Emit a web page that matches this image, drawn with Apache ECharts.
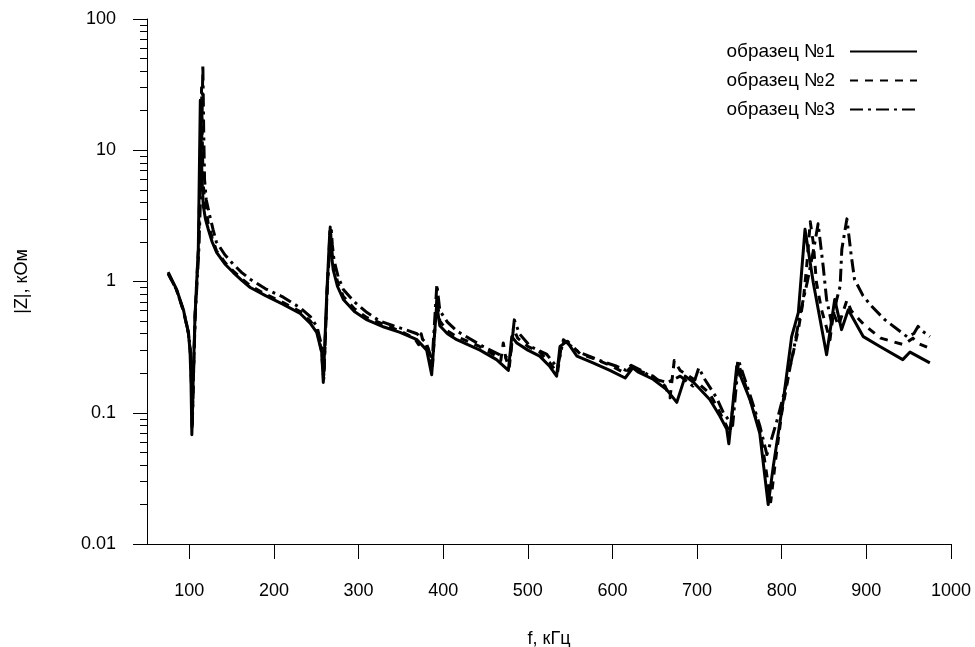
<!DOCTYPE html>
<html>
<head>
<meta charset="utf-8">
<script src="https://cdn.jsdelivr.net/npm/echarts@6/dist/echarts.min.js"></script>
<style>
  html, body { margin: 0; padding: 0; background: #fff; }
  #main { width: 975px; height: 647px; }
</style>
</head>
<body>
<div id="main"></div>
<script>
// frequency, kHz and |Z|, kOhm
var freq1 = [75, 85, 93, 98.8, 100.8, 102, 103, 104.5, 106.7, 110.6, 113, 114, 115, 116.5, 119, 122.4, 127, 132.4, 142, 152, 162, 172, 190, 211, 231, 243, 250.5, 256.4, 258.3, 262.3, 266, 268, 270, 275, 282, 295, 310, 330, 349, 369, 380.5, 386.4, 392.3, 396, 405, 416, 443.5, 463, 477, 481, 487, 500, 514, 526, 534, 538, 546, 558, 577, 597, 615, 624, 630, 648, 664, 676, 686, 696, 715, 727, 735, 737.5, 746.8, 762.5, 774, 784, 790, 802, 811.7, 819.6, 827.5, 837.3, 853, 862.6, 870.7, 878.6, 896.4, 916, 943, 951.6, 975];
var z1 = [1.18, 0.87, 0.61, 0.41, 0.30, 0.17, 0.068, 0.17, 0.54, 1.75, 24, 12, 6, 3.8, 3.0, 2.5, 2.0, 1.66, 1.36, 1.17, 1.02, 0.90, 0.78, 0.67, 0.57, 0.48, 0.41, 0.29, 0.17, 0.77, 2.4, 1.6, 1.23, 0.92, 0.73, 0.59, 0.51, 0.45, 0.41, 0.36, 0.30, 0.195, 0.67, 0.46, 0.40, 0.36, 0.30, 0.254, 0.21, 0.38, 0.34, 0.30, 0.27, 0.225, 0.19, 0.32, 0.35, 0.27, 0.24, 0.21, 0.184, 0.22, 0.205, 0.18, 0.15, 0.12, 0.19, 0.17, 0.126, 0.094, 0.075, 0.058, 0.225, 0.126, 0.07, 0.020, 0.039, 0.126, 0.38, 0.58, 2.5, 0.98, 0.277, 0.73, 0.43, 0.61, 0.38, 0.32, 0.254, 0.29, 0.24];

var freq2 = [75, 85, 93, 99, 101, 102.3, 103.3, 105, 107, 111, 114.5, 115.5, 116.5, 118, 122.4, 127, 132, 142, 152, 162, 172, 190, 211, 231, 243, 251, 256, 258.8, 262.7, 266.5, 268.5, 270.5, 276, 282, 295, 310, 330, 349, 366, 371, 374, 377, 382, 387, 392.5, 396, 405, 416, 443, 463, 468, 471, 474, 478, 483, 488, 500, 514, 526, 535, 540, 547, 562, 577, 597, 615, 624, 630, 648, 662, 668, 673, 680, 696, 715, 727, 739, 748, 762, 775, 787, 792, 800, 810, 819.6, 825.6, 829.5, 833.7, 837.3, 841, 847, 857, 861, 867, 877, 882, 897, 917, 944, 955, 960, 975];
var z2 = [1.15, 0.86, 0.60, 0.40, 0.30, 0.18, 0.075, 0.2, 0.6, 1.9, 30, 10, 5.5, 4.2, 2.75, 2.15, 1.72, 1.4, 1.2, 1.05, 0.93, 0.8, 0.69, 0.59, 0.50, 0.42, 0.30, 0.18, 0.8, 2.6, 1.7, 1.3, 0.95, 0.77, 0.62, 0.53, 0.47, 0.42, 0.37, 0.33, 0.40, 0.33, 0.31, 0.21, 0.75, 0.5, 0.42, 0.38, 0.32, 0.27, 0.25, 0.34, 0.26, 0.22, 0.44, 0.37, 0.32, 0.29, 0.24, 0.2, 0.34, 0.35, 0.28, 0.26, 0.23, 0.20, 0.23, 0.21, 0.19, 0.16, 0.13, 0.25, 0.21, 0.18, 0.14, 0.10, 0.07, 0.245, 0.13, 0.07, 0.021, 0.04, 0.1, 0.225, 0.43, 0.73, 1.31, 2.85, 1.97, 0.98, 0.61, 0.36, 0.58, 0.46, 0.72, 0.6, 0.47, 0.37, 0.33, 0.37, 0.34, 0.31];

var freq3 = [75, 85, 93, 99, 101, 102.5, 103.5, 105, 107, 111, 114, 116, 117, 118, 120, 124, 128, 132, 142, 152, 162, 172, 190, 211, 231, 243, 251, 256, 259, 263, 267.5, 269, 271, 276, 282, 295, 310, 325, 341, 355, 369, 380, 387, 392.5, 396, 405, 416, 447, 470, 479, 484, 490, 503, 522, 535, 542, 549, 560, 585, 605, 616, 622, 634, 650, 665, 680, 695, 702, 709, 723, 731, 742, 749, 762, 774, 782.5, 795, 806, 814, 822, 830, 838, 843, 849, 853, 859, 865, 869, 871, 877, 882, 886, 896, 906, 922, 948, 956, 961, 966, 975];
var z3 = [1.15, 0.86, 0.60, 0.41, 0.31, 0.19, 0.08, 0.2, 0.55, 1.6, 6, 45, 14, 6, 4.2, 3.2, 2.5, 2.0, 1.6, 1.35, 1.17, 1.04, 0.88, 0.76, 0.63, 0.54, 0.45, 0.33, 0.19, 0.9, 2.6, 1.9, 1.45, 1.08, 0.87, 0.7, 0.58, 0.50, 0.46, 0.43, 0.40, 0.34, 0.25, 0.95, 0.6, 0.49, 0.42, 0.32, 0.27, 0.26, 0.51, 0.40, 0.32, 0.28, 0.22, 0.36, 0.33, 0.29, 0.25, 0.226, 0.21, 0.23, 0.21, 0.18, 0.17, 0.19, 0.16, 0.22, 0.18, 0.13, 0.10, 0.08, 0.25, 0.14, 0.08, 0.048, 0.09, 0.17, 0.30, 0.58, 0.98, 1.8, 2.75, 1.3, 0.73, 0.48, 0.73, 0.92, 1.76, 3.0, 1.6, 1.04, 0.78, 0.65, 0.51, 0.38, 0.40, 0.455, 0.42, 0.38];

var seriesNames = ['образец №1', 'образец №2', 'образец №3'];
var xTicks = [100, 200, 300, 400, 500, 600, 700, 800, 900, 1000];
var yTicks = [0.01, 0.1, 1, 10, 100];

function zip(xs, ys) {
  return xs.map(function (x, i) { return [x, ys[i]]; });
}

var yMinor = [];
yTicks.slice(0, -1).forEach(function (d) {
  for (var k = 2; k <= 9; k++) yMinor.push(+(d * k).toPrecision(3));
});

var font = 'Liberation Sans, Arial, sans-serif';
var axisColor = '#000';

var myChart = echarts.init(document.getElementById('main'), null, { renderer: 'canvas' });

function lineSeries(name, data, dash) {
  return {
    name: name,
    type: 'line',
    data: data,
    showSymbol: false,
    symbol: 'none',
    smooth: false,
    animation: false,
    lineStyle: { color: '#000', width: 3, type: dash, cap: 'butt', join: 'round' },
    itemStyle: { color: '#000' }
  };
}

myChart.setOption({
  backgroundColor: '#fff',
  animation: false,
  textStyle: { fontFamily: font, color: '#000' },
  grid: { left: 147, right: 24, top: 19, bottom: 103, outerBoundsMode: 'none', containLabel: false },
  legend: {
    orient: 'vertical',
    right: 52,
    top: 37,
    align: 'right',
    itemWidth: 67,
    itemHeight: 14,
    itemGap: 10,
    itemStyle: { opacity: 0 },
    textStyle: { fontFamily: font, fontSize: 19, color: '#000', padding: [0, 10, 0, 0] },
    data: seriesNames
  },
  xAxis: {
    type: 'value',
    min: 50,
    max: 1000,
    name: 'f, кГц',
    nameLocation: 'middle',
    nameGap: 86,
    nameTextStyle: { fontFamily: font, fontSize: 18, color: '#000' },
    axisLine: { onZero: false, lineStyle: { color: axisColor, width: 1 } },
    axisTick: { show: true, inside: false, length: 15, customValues: xTicks, lineStyle: { color: axisColor } },
    axisLabel: {
      customValues: xTicks,
      margin: 38,
      fontFamily: font,
      fontSize: 18,
      color: '#000',
      formatter: function (v) { return String(v); }
    },
    splitLine: { show: false }
  },
  yAxis: [{
    type: 'log',
    logBase: 10,
    min: 0.01,
    max: 100,
    name: '|Z|, кОм',
    nameLocation: 'middle',
    nameGap: 116,
    nameRotate: 90,
    nameTextStyle: { fontFamily: font, fontSize: 18, color: '#000' },
    axisLine: { show: true, lineStyle: { color: axisColor, width: 1 } },
    axisTick: { show: true, length: 14, customValues: yTicks, lineStyle: { color: axisColor } },
    axisLabel: {
      customValues: yTicks,
      margin: 31,
      fontFamily: font,
      fontSize: 18,
      color: '#000',
      formatter: function (v) { return String(+v.toPrecision(3)); }
    },
    splitLine: { show: false }
  }, {
    type: 'log',
    logBase: 10,
    min: 0.01,
    max: 100,
    position: 'left',
    axisLine: { show: false },
    axisTick: { show: true, length: 7, customValues: yMinor, lineStyle: { color: axisColor } },
    axisLabel: { show: false },
    splitLine: { show: false }
  }],
  series: [
    lineSeries(seriesNames[0], zip(freq1, z1), 'solid'),
    lineSeries(seriesNames[1], zip(freq2, z2), [8, 7]),
    lineSeries(seriesNames[2], zip(freq3, z3), [13, 5, 3, 5])
  ]
});
</script>
</body>
</html>
